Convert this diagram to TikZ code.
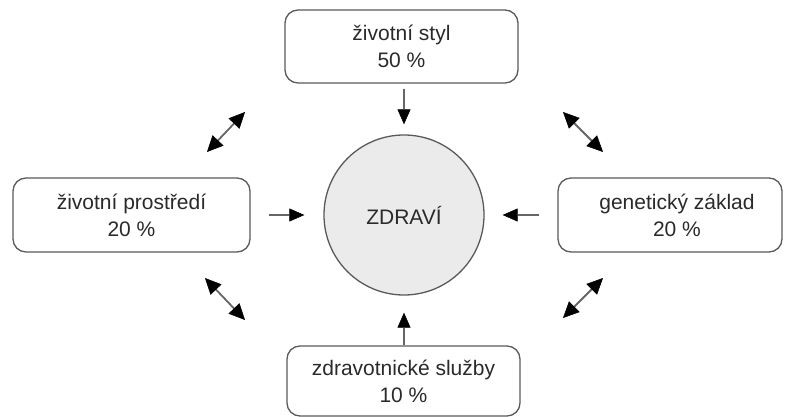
\documentclass[tikz,border=0pt]{standalone}
\usepackage{fontspec}
\setmainfont{Liberation Sans}
\usetikzlibrary{arrows.meta}
\definecolor{boxline}{HTML}{5A5A5A}
\definecolor{txt}{HTML}{2A2A2A}
\definecolor{circfill}{HTML}{EBEBEB}
\tikzset{
  factor/.style={draw=boxline, line width=1.3pt, rounded corners=13pt, fill=white,
    text=txt, align=center, font=\fontsize{21}{27}\selectfont, inner sep=0pt},
  health/.style={circle, draw=boxline, line width=1.3pt, fill=circfill, minimum size=160pt,
    text=txt, font=\fontsize{21}{27}\selectfont, inner sep=0pt},
  inflow/.style={draw=black!60, line width=1.3pt, -{Triangle[length=15pt,width=13pt,fill=black,line width=0.5pt,color=black]}},
  mutual/.style={draw=black!60, line width=1.8pt, {Triangle[length=16pt,width=15pt,fill=black,line width=0.5pt,color=black]}-{Triangle[length=16pt,width=15pt,fill=black,line width=0.5pt,color=black]}}
}
\begin{document}
\begin{tikzpicture}[x=1pt,y=-1pt]
\useasboundingbox (0,0) rectangle (785,417);
\node[health] (zd) at (404,215) {ZDRAVÍ};
\node[factor, minimum width=233pt, minimum height=73pt] (ls) at (401.5,46.5) {životní styl\\50 \%};
\node[factor, minimum width=237pt, minimum height=74pt] (env) at (131.5,215) {životní prostředí\\20 \%};
\node[factor, minimum width=224pt, minimum height=74pt] (gen) at (670,215) {\hspace*{14pt}genetický základ\\\hspace*{14pt}20 \%};
\node[factor, minimum width=233pt, minimum height=70pt] (hs) at (403.5,381) {zdravotnické služby\\10 \%};
\draw[inflow, shorten <=5pt, shorten >=10pt] (ls.south -| zd.north) -- (zd.north);
\draw[inflow, shorten <=18pt, shorten >=19pt] (env.east) -- (zd.west);
\draw[inflow, shorten <=18pt, shorten >=18pt] (gen.west) -- (zd.east);
\draw[inflow, shorten <=0pt, shorten >=17pt] (hs.north -| zd.south) -- (zd.south);
\coordinate (tl1) at (207,152); \coordinate (tl2) at (245,112);
\coordinate (bl1) at (205,278); \coordinate (bl2) at (245,320);
\coordinate (tr1) at (563,112); \coordinate (tr2) at (603,152);
\coordinate (br1) at (563,318); \coordinate (br2) at (603,278);
\draw[mutual] (tl1) -- (tl2);
\draw[mutual] (bl1) -- (bl2);
\draw[mutual] (tr1) -- (tr2);
\draw[mutual] (br1) -- (br2);
\end{tikzpicture}
\end{document}
